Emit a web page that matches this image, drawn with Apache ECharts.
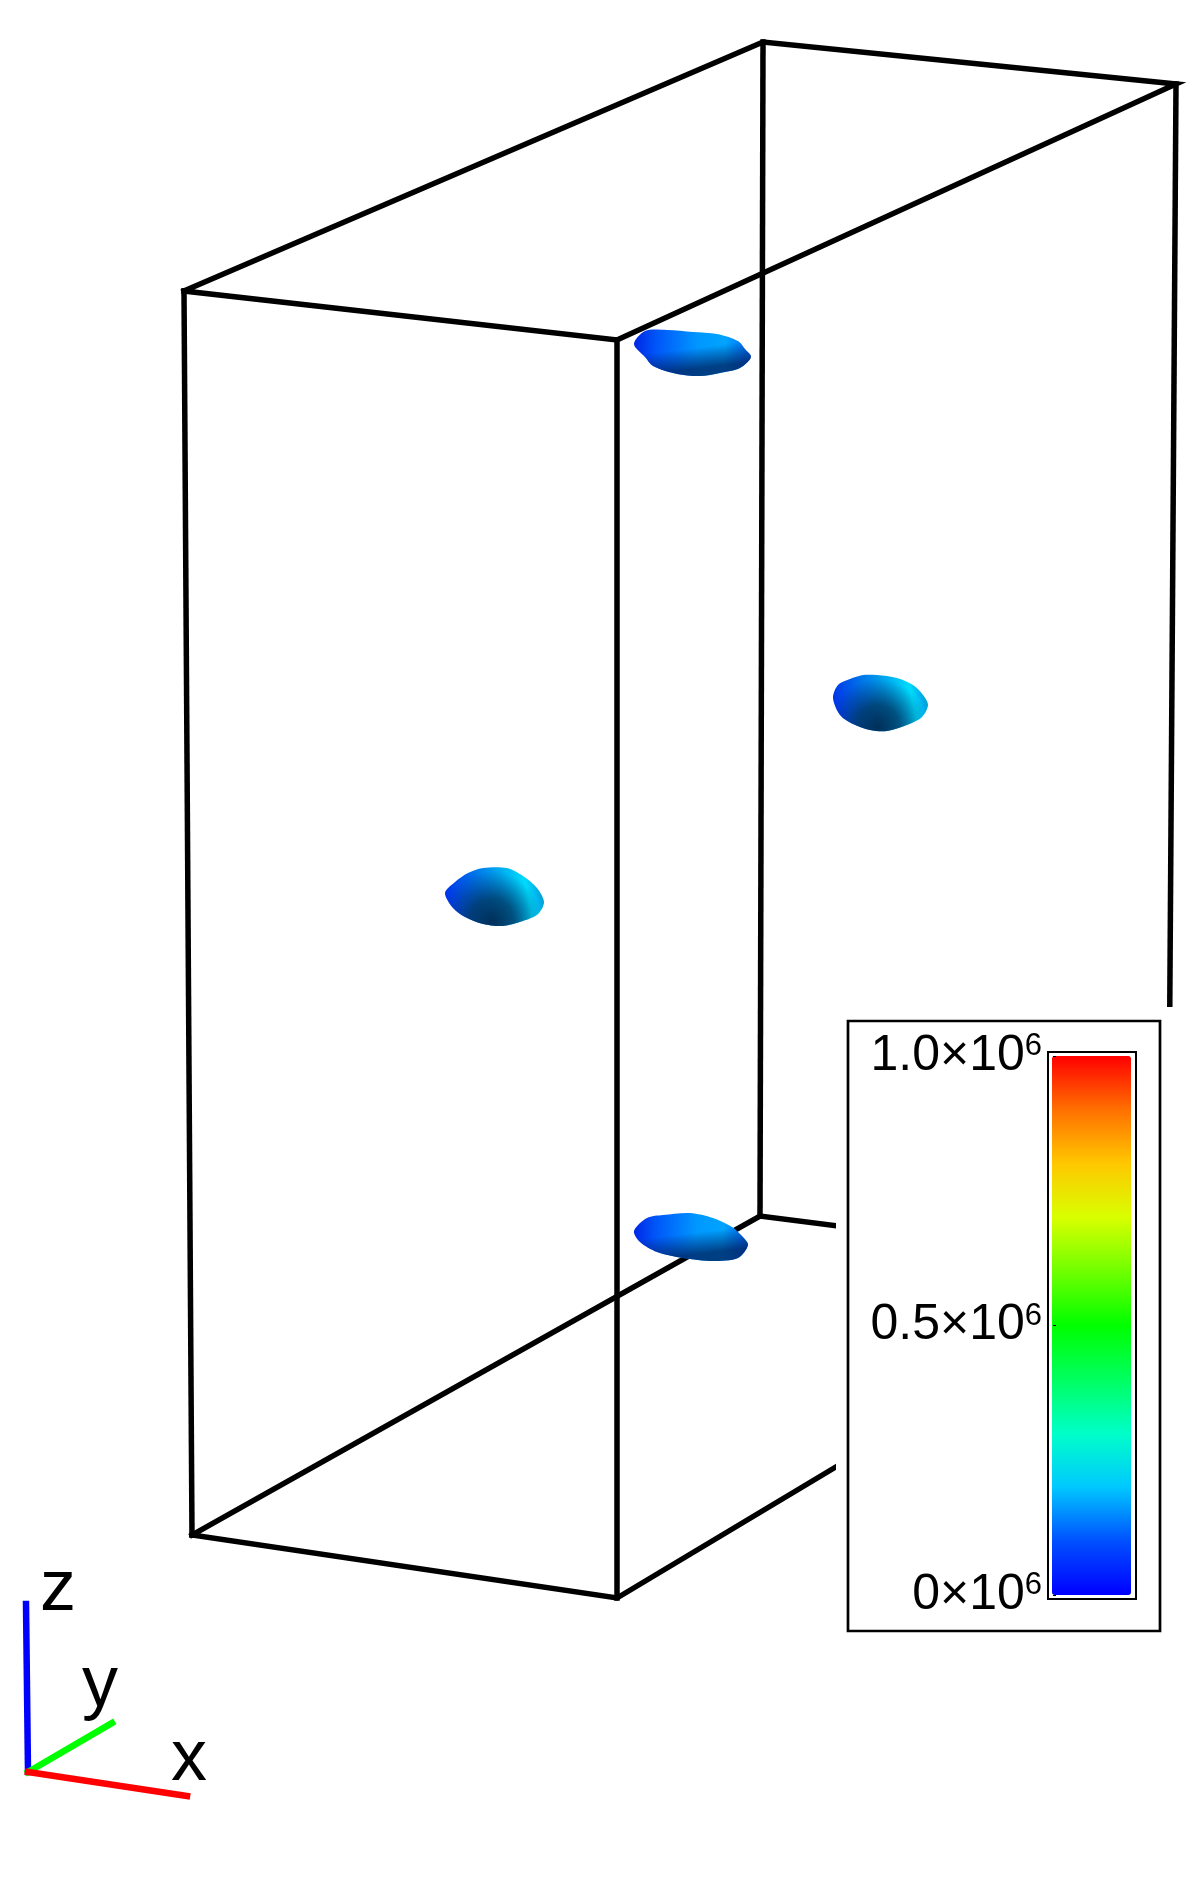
<!DOCTYPE html>
<html><head><meta charset="utf-8">
<style>html,body{margin:0;padding:0;background:#fff}#c{width:1200px;height:1877px}</style>
<script src="https://cdn.jsdelivr.net/npm/echarts@6/dist/echarts.min.js"></script>
</head><body><div id="c"></div>
<script>
// Box corners
const A=[184,291],B=[617,340],C=[763,42],D=[1176,84],E=[192,1535],F=[617,1598],G=[760,1216],H=[1168,1268];
const boxPaths=[[A,B,D,C,A],[E,F,H,G,E],[A,E],[B,F],[C,G],[D,H]];
// Orientation triad
const triadOrigin=[28,1772];
const triadZ=[26,1604], triadY=[112,1723], triadX=[187,1796];
const triadLetters=[['z',58,1590],['y',100,1686],['x',189,1760]];
// Iso-surface blobs: outline points and iso value
const blobTop=[[634,344],[645,331],[667,330],[693,332],[717,334],[738,341],[745,349],[751,357],[740,368],[720,373],[700,376],[677,374],[653,366],[645,357]];
const blobRight=[[833,698],[838,685],[850,679],[863,675],[877,675],[897,678],[913,685],[923,695],[928,705],[922,717],[907,725],[887,731],[870,730],[853,724],[840,715]];
const blobLeft=[[445,893],[455,882],[468,873],[483,868],[507,868],[523,876],[537,888],[544,902],[538,914],[523,921],[503,926],[483,924],[465,917],[453,908]];
const blobBottom=[[634,1231],[647,1218],[663,1215],[690,1213],[713,1218],[732,1227],[742,1236],[748,1245],[738,1258],[713,1261],[683,1258],[657,1252],[640,1242]];
const blobValues=[120000,170000,170000,120000];
// Colour bar
const colorbarStops=['#0000ff','#0050ff','#00c8ff','#00ffc8','#00ff60','#00ff00','#70ff00','#d8ff00','#ffc800','#ff7000','#ff0000'];
const colorbarMin=0, colorbarMax=1000000, colorbarStep=500000;
const tickLabels={0:'0×10',500000:'0.5×10',1000000:'1.0×10'};
const tickExponent='6';
// Legend frames [x0,y0,x1,y1]
const legendMask=[836,1007,1178,1645];
const legendBox=[848,1021,1160,1631];
const colorbarFrame=[1048,1052,1136,1599];

const blues=[
 {type:'linear',x:0,y:0.3,x2:1,y2:0.4,colorStops:[{offset:0,color:'#0026e4'},{offset:.18,color:'#0054f8'},{offset:.55,color:'#0098ff'},{offset:.78,color:'#00a4ff'},{offset:1,color:'#0068f4'}]},
 {type:'linear',x:0,y:0,x2:0.05,y2:1,colorStops:[{offset:0,color:'rgba(0,20,90,0)'},{offset:.55,color:'rgba(0,20,90,0)'},{offset:1,color:'rgba(0,30,90,.75)'}]}
];
const teals=[
 {type:'linear',x:0,y:0.6,x2:1,y2:0.25,colorStops:[{offset:0,color:'#0030e8'},{offset:.25,color:'#0060e8'},{offset:.55,color:'#00a0ec'},{offset:.82,color:'#00dcfc'},{offset:.93,color:'#00a8e8'},{offset:1,color:'#00a0a0'}]},
 {type:'radial',x:.47,y:.92,r:.85,colorStops:[{offset:0,color:'rgba(0,45,85,.97)'},{offset:.45,color:'rgba(0,50,90,.75)'},{offset:1,color:'rgba(0,50,110,0)'}]}
];
const blobs=[{o:blobTop,g:blues},{o:blobRight,g:teals},{o:blobLeft,g:teals},{o:blobBottom,g:blues}];

const lineSeries=(pts,color,width,z)=>({type:'line',data:pts,xAxisIndex:0,yAxisIndex:0,symbol:'none',silent:true,animation:false,z:z,
  lineStyle:{color:color,width:width,join:'miter',cap:'square'}});

const series=[];
boxPaths.forEach(p=>series.push(lineSeries(p,'#000',5.5,2)));
series.push(lineSeries([triadOrigin,triadZ],'#0000ff',6.5,2));
series.push(lineSeries([triadOrigin,triadY],'#00ff00',6.5,2));
series.push(lineSeries([triadOrigin,triadX],'#ff0000',6.5,2));
series.push({type:'custom',coordinateSystem:'cartesian2d',xAxisIndex:0,yAxisIndex:0,silent:true,animation:false,z:3,
  data:blobValues.map((v,i)=>[i,v]),encode:{x:0,y:1},clip:false,
  renderItem:(p,api)=>{const b=blobs[api.value(0)];
    const pts=b.o.map(q=>api.coord(q));
    return {type:'group',children:b.g.map(g=>({type:'polygon',shape:{points:pts,smooth:.3},style:{fill:g}}))};}
});
const rectChild=(api,r,style)=>{const a=api.coord([r[0],r[1]]),b=api.coord([r[2],r[3]]);
  return {type:'rect',shape:{x:a[0],y:a[1],width:b[0]-a[0],height:b[1]-a[1]},style:style};};
series.push({type:'custom',coordinateSystem:'cartesian2d',xAxisIndex:0,yAxisIndex:0,silent:true,animation:false,z:4,
  data:[[0,0]],clip:false,
  renderItem:(p,api)=>({type:'group',children:[
    rectChild(api,legendMask,{fill:'#fff'}),
    rectChild(api,legendBox,{fill:'none',stroke:'#000',lineWidth:2.7}),
    rectChild(api,colorbarFrame,{fill:'none',stroke:'#000',lineWidth:2})
  ]})
});
series.push({type:'custom',coordinateSystem:'cartesian2d',xAxisIndex:0,yAxisIndex:0,silent:true,animation:false,z:5,
  data:triadLetters.map((t,i)=>[i,0]),clip:false,
  renderItem:(p,api)=>{const t=triadLetters[api.value(0)],c=api.coord([t[1],t[2]]);
    return {type:'text',style:{x:c[0],y:c[1],text:t[0],textAlign:'center',textVerticalAlign:'middle',font:'72px "Liberation Sans"',fill:'#000'}};}
});

const chart=echarts.init(document.getElementById('c'),null,{renderer:'canvas'});
chart.setOption({
  animation:false,backgroundColor:'#fff',
  grid:[{left:0,top:0,width:1200,height:1877,show:false},{left:1053,top:1056,width:79,height:539,show:false}],
  xAxis:[{type:'value',gridIndex:0,min:0,max:1200,show:false},{type:'value',gridIndex:1,min:0,max:1,show:false}],
  yAxis:[{type:'value',gridIndex:0,min:0,max:1877,inverse:true,show:false},
    {type:'value',gridIndex:1,min:colorbarMin,max:colorbarMax,interval:colorbarStep,offset:5,z:10,position:'left',
     axisLine:{show:false},splitLine:{show:false},
     axisTick:{show:true,inside:true,length:3,lineStyle:{color:'#000',width:1}},
     axisLabel:{margin:6,color:'#000',formatter:v=>`{a|${tickLabels[v]}}{b|${tickExponent}}`,
       rich:{a:{fontFamily:'Liberation Sans',fontSize:50,lineHeight:50,color:'#000',verticalAlign:'bottom'},
             b:{fontFamily:'Liberation Sans',fontSize:31,lineHeight:32,color:'#000',padding:[0,0,26,0],verticalAlign:'top'}}}}],
  visualMap:[{type:'continuous',seriesIndex:9,dimension:1,min:colorbarMin,max:colorbarMax,calculable:false,text:null,showLabel:false,
    itemWidth:79,itemHeight:539,left:1052,top:1056,padding:0,borderWidth:0,orient:'vertical',zlevel:0,z:8,
    inRange:{color:colorbarStops},textStyle:{fontSize:0,color:'rgba(0,0,0,0)'}}],
  series:series
});
</script></body></html>
